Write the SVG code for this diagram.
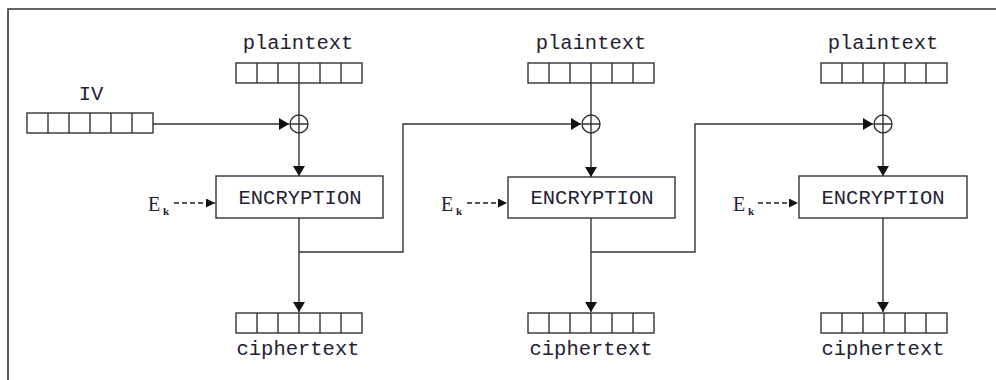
<svg xmlns="http://www.w3.org/2000/svg" width="996" height="380" viewBox="0 0 996 380">
  <style>
    .txt { font-family: "Liberation Mono", "Courier New", monospace; font-size: 20.5px; fill: #1f2233; }
    .key { font-family: "Liberation Serif", "Times New Roman", serif; font-size: 20px; fill: #1f2233; }
    .sub { font-family: "Liberation Serif", "Times New Roman", serif; font-size: 11px; font-weight: bold; fill: #1f2233; }
    .ln { fill: none; stroke: #333; stroke-width: 1.4; }
    .box { fill: #fff; stroke: #333; stroke-width: 1.4; }
    .dash { fill: none; stroke: #222; stroke-width: 1.4; stroke-dasharray: 5 3; }
  </style>
  <defs>
    <marker id="ah" viewBox="0 0 10 12" refX="10" refY="6" markerWidth="10" markerHeight="12" markerUnits="userSpaceOnUse" orient="auto">
      <path d="M0,0 L10,6 L0,12 Z" fill="#111"/>
    </marker>
    <marker id="ahs" viewBox="0 0 10 10" refX="10" refY="5" markerWidth="9" markerHeight="9" markerUnits="userSpaceOnUse" orient="auto">
      <path d="M0,0 L10,5 L0,10 Z" fill="#111"/>
    </marker>
    <!-- six-cell register -->
    <g id="reg">
      <rect class="box" x="0" y="0" width="126" height="20"/>
      <path class="ln" d="M21,0 V20 M42,0 V20 M63,0 V20 M84,0 V20 M105,0 V20"/>
    </g>
    <!-- xor symbol -->
    <g id="xor">
      <circle cx="0" cy="0" r="9" fill="#fff" stroke="#333" stroke-width="1.4"/>
      <path d="M-9,0 H9 M0,-9 V9" stroke="#333" stroke-width="1.4"/>
    </g>
  </defs>

  <rect width="996" height="380" fill="#fff"/>
  <!-- frame -->
  <path d="M8,380 V9 H996" fill="none" stroke="#333" stroke-width="1.6"/>

  <!-- connectors -->
  <g id="connectors">
    <!-- IV to first xor -->
    <path class="ln" d="M153,124 H289" marker-end="url(#ah)"/>
    <!-- column 1 -->
    <path class="ln" d="M299,83 V115"/>
    <path class="ln" d="M299,133 V176" marker-end="url(#ah)"/>
    <path class="ln" d="M299,218 V312" marker-end="url(#ah)"/>
    <path class="ln" d="M299,252 H403 V124 H581" marker-end="url(#ah)"/>
    <path class="dash" d="M174,203 H215" marker-end="url(#ahs)"/>
    <!-- column 2 -->
    <path class="ln" d="M591,83 V115"/>
    <path class="ln" d="M591,133 V177" marker-end="url(#ah)"/>
    <path class="ln" d="M591,218 V312" marker-end="url(#ah)"/>
    <path class="ln" d="M591,252 H695 V124 H873" marker-end="url(#ah)"/>
    <path class="dash" d="M467,203 H507" marker-end="url(#ahs)"/>
    <!-- column 3 -->
    <path class="ln" d="M883,83 V115"/>
    <path class="ln" d="M883,133 V176" marker-end="url(#ah)"/>
    <path class="ln" d="M883,218 V312" marker-end="url(#ah)"/>
    <path class="dash" d="M758,203 H798" marker-end="url(#ahs)"/>
  </g>

  <!-- IV -->
  <g id="iv">
    <text class="txt" x="91" y="100" text-anchor="middle">IV</text>
    <use href="#reg" x="27" y="113"/>
  </g>

  <!-- column 1 -->
  <g id="pt1">
    <text class="txt" x="298" y="49" text-anchor="middle">plaintext</text>
    <use href="#reg" x="236" y="63"/>
  </g>
  <g id="xor1"><use href="#xor" x="299" y="124"/></g>
  <g id="enc1">
    <rect class="box" x="216" y="176" width="167" height="42"/>
    <text class="txt" x="300" y="204" text-anchor="middle">ENCRYPTION</text>
  </g>
  <g id="key1">
    <text class="key" x="148" y="211">E</text>
    <text class="sub" x="163" y="215">k</text>
  </g>
  <g id="ct1">
    <use href="#reg" x="236" y="313"/>
    <text class="txt" x="298" y="355" text-anchor="middle">ciphertext</text>
  </g>

  <!-- column 2 -->
  <g id="pt2">
    <text class="txt" x="591" y="49" text-anchor="middle">plaintext</text>
    <use href="#reg" x="528" y="63"/>
  </g>
  <g id="xor2"><use href="#xor" x="591" y="124"/></g>
  <g id="enc2">
    <rect class="box" x="508" y="177" width="167" height="41"/>
    <text class="txt" x="592" y="204" text-anchor="middle">ENCRYPTION</text>
  </g>
  <g id="key2">
    <text class="key" x="441" y="211">E</text>
    <text class="sub" x="456" y="215">k</text>
  </g>
  <g id="ct2">
    <use href="#reg" x="528" y="313"/>
    <text class="txt" x="591" y="355" text-anchor="middle">ciphertext</text>
  </g>

  <!-- column 3 -->
  <g id="pt3">
    <text class="txt" x="883" y="49" text-anchor="middle">plaintext</text>
    <use href="#reg" x="821" y="63"/>
  </g>
  <g id="xor3"><use href="#xor" x="883" y="124"/></g>
  <g id="enc3">
    <rect class="box" x="799" y="176" width="168" height="42"/>
    <text class="txt" x="883" y="204" text-anchor="middle">ENCRYPTION</text>
  </g>
  <g id="key3">
    <text class="key" x="733" y="211">E</text>
    <text class="sub" x="748" y="215">k</text>
  </g>
  <g id="ct3">
    <use href="#reg" x="821" y="313"/>
    <text class="txt" x="883" y="355" text-anchor="middle">ciphertext</text>
  </g>
</svg>
